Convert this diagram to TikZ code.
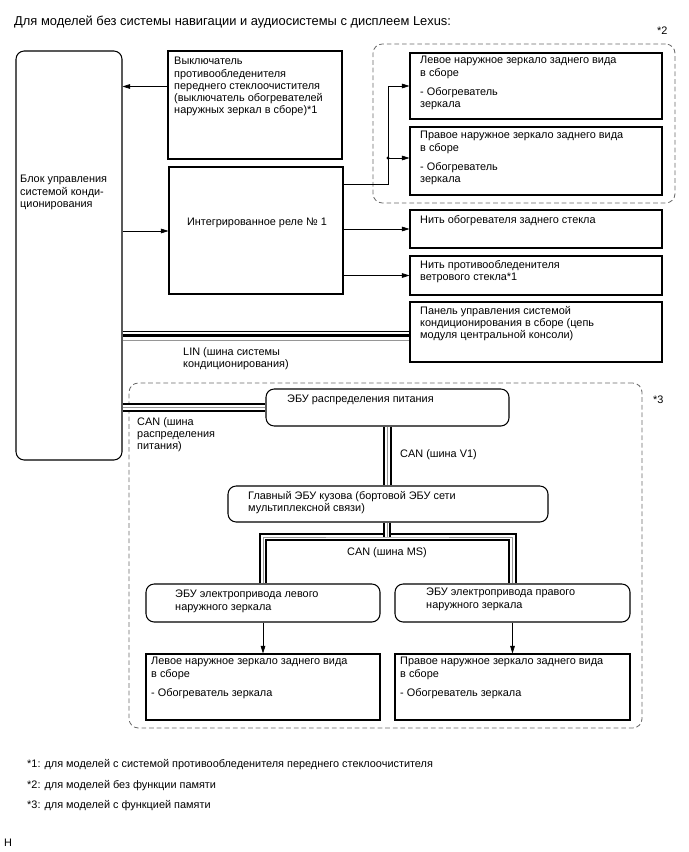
\documentclass[tikz,border=0pt]{standalone}
\usepackage{fontspec}
\setmainfont{Liberation Sans}
\definecolor{busgray}{RGB}{150,150,150}
\definecolor{zonegray}{RGB}{105,105,105}
\usetikzlibrary{positioning,fit,arrows.meta}

\tikzset{
  box/.style={draw, line width=0.9pt, inner sep=0pt},
  ecubox/.style={box, rounded corners=7pt},
  zone/.style={draw=zonegray, dash pattern=on 4pt off 2.5pt, line width=0.7pt, rounded corners=8pt, inner sep=0pt},
  txt/.style={font=\fontsize{9.3}{10.5}\selectfont, align=left, inner sep=0pt, anchor=north west},
  arr/.style={-{Triangle[length=6.5pt,width=4pt]}, line width=0.6pt},
  canbus/.style={line width=1.9pt, double=white, double distance=3.6pt},
  busmid/.style={line width=0.7pt, busgray},
}

\begin{document}
\begin{tikzpicture}[x=0.03cm, y=-0.03cm]
    \useasboundingbox (0,0) rectangle (688,852);

    \node[txt, anchor=west, font=\fontsize{11}{13}\selectfont] (title) at (14,22) {Для моделей без системы навигации и аудиосистемы с дисплеем Lexus:};

    \node[zone, fit={(373,44) (675,203)}] (zone2) {};
    \node[txt, anchor=west] (note2) at (657,31) {*2};
    \node[zone, fit={(129,383) (642,728)}] (zone3) {};
    \node[txt, anchor=west] (note3) at (653,400) {*3};

    \node[ecubox, fit={(16,51) (122,460)}] (ac) {};
    \node[txt] (ac-t) at (20,175) {Блок управления\\системой конди-\\ционирования};

    \node[box, fit={(168,51) (342,159)}] (sw) {};
    \node[txt] (sw-t) at (174,57) {Выключатель\\противообледенителя\\переднего стеклоочистителя\\(выключатель обогревателей\\наружных зеркал в сборе)*1};

    \node[box, fit={(169,167) (343,294)}] (relay) {};
    \node[txt, anchor=center] (relay-t) at (257,223) {Интегрированное реле № 1};

    \node[box, fit={(410,53) (662,119)}] (mirL2) {};
    \node[txt] (mirL2-t) at (420,56) {Левое наружное зеркало заднего вида\\в сборе\\[6pt]- Обогреватель\\зеркала};
    \node[box, fit={(410,127) (662,195)}] (mirR2) {};
    \node[txt] (mirR2-t) at (420,131) {Правое наружное зеркало заднего вида\\в сборе\\[6pt]- Обогреватель\\зеркала};

    \node[box, fit={(410,210) (662,248)}] (rear) {};
    \node[txt] (rear-t) at (420,215) {Нить обогревателя заднего стекла};
    \node[box, fit={(410,256) (662,295)}] (ws) {};
    \node[txt] (ws-t) at (420,260) {Нить противообледенителя\\ветрового стекла*1};
    \node[box, fit={(410,302) (662,362)}] (panel) {};
    \node[txt] (panel-t) at (420,306) {Панель управления системой\\кондиционирования в сборе (цепь\\модуля центральной консоли)};

    \node[ecubox, fit={(266,389) (509,426)}] (pdecu) {};
    \node[txt] (pdecu-t) at (287,395) {ЭБУ распределения питания};
    \node[ecubox, fit={(228,486) (548,522)}] (body) {};
    \node[txt] (body-t) at (248,491) {Главный ЭБУ кузова (бортовой ЭБУ сети\\мультиплексной связи)};

    \node[ecubox, fit={(146,584) (380,622)}] (ecuL) {};
    \node[txt] (ecuL-t) at (175,590) {ЭБУ электропривода левого\\наружного зеркала};
    \node[ecubox, fit={(395,584) (630,622)}] (ecuR) {};
    \node[txt] (ecuR-t) at (426,588) {ЭБУ электропривода правого\\наружного зеркала};

    \node[box, fit={(146,654) (380,720)}] (mirL3) {};
    \node[txt] (mirL3-t) at (151,657) {Левое наружное зеркало заднего вида\\в сборе\\[6pt]- Обогреватель зеркала};
    \node[box, fit={(395,654) (630,720)}] (mirR3) {};
    \node[txt] (mirR3-t) at (400,657) {Правое наружное зеркало заднего вида\\в сборе\\[6pt]- Обогреватель зеркала};

    \draw[arr] (sw.west |- 0,86.5) -- (ac.east |- 0,86.5);
    \draw[arr] (ac.east |- 0,231) -- (relay.west |- 0,231);

    \coordinate (j2) at (388,158);
    \draw[line width=0.6pt] (relay.east |- 0,184) -| (j2);
    \draw[arr] (j2) |- (mirL2.west);
    \draw[arr] (j2) -- (mirR2.west |- j2);
    \fill (j2) circle (1.4pt);
    \draw[arr] (relay.east |- rear.west) -- (rear.west);
    \draw[arr] (relay.east |- ws.west) -- (ws.west);

    \draw[line width=0.7pt] (ac.east |- 0,331) -- (panel.west |- 0,331);
    \draw[line width=2.8pt] (ac.east |- 0,335.5) -- (panel.west |- 0,335.5);
    \draw[busmid] (ac.east |- 0,340) -- (panel.west |- 0,340);
    \node[txt] (lin) at (183,347) {LIN (шина системы\\кондиционирования)};

    \draw[canbus] (ac.east |- pdecu.west) -- (pdecu.west);
    \draw[busmid] (ac.east |- pdecu.west) -- (pdecu.west);
    \node[txt] (can-pd) at (137,417) {CAN (шина\\распределения\\питания)};
    \draw[canbus] (pdecu.south) -- (pdecu.south |- body.north);
    \draw[busmid] (pdecu.south) -- (pdecu.south |- body.north);
    \node[txt, anchor=west] (can-v1) at (400,455) {CAN (шина V1)};

    \coordinate (ms) at (387,537);
    \draw[canbus] (ecuL.north) |- (ms) -| (ecuR.north);
    \draw[canbus] (body.south -| ms) -- (ms);
    \draw[busmid] (ecuL.north) |- (ms) -| (ecuR.north);
    \draw[busmid] (body.south -| ms) -- (ms);
    \node[txt, anchor=center] (can-ms) at (387,553) {CAN (шина MS)};

    \draw[arr] (ecuL.south) -- (mirL3.north);
    \draw[arr] (ecuR.south) -- (mirR3.north);

    \node[txt, anchor=west] (fn1) at (27,765) {*1: для моделей с системой противообледенителя переднего стеклоочистителя};
    \node[txt, anchor=west] (fn2) at (27,786) {*2: для моделей без функции памяти};
    \node[txt, anchor=west] (fn3) at (27,806) {*3: для моделей с функцией памяти};
    \node[txt, anchor=west] (fig) at (4,843) {H};
\end{tikzpicture}
\end{document}
